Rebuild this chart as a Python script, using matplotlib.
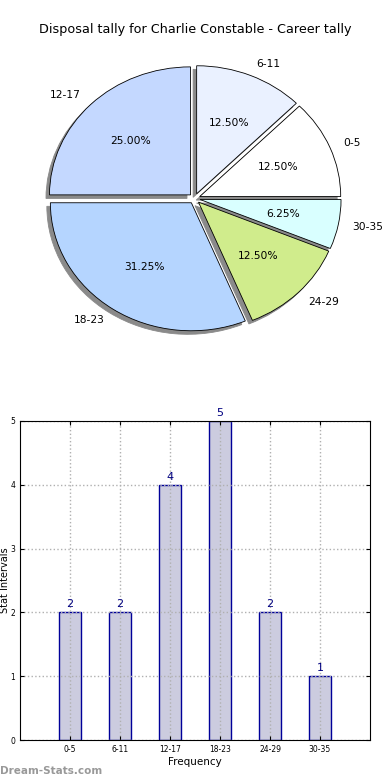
import matplotlib
matplotlib.use("Agg")
import matplotlib.pyplot as plt
import numpy as np

categories = ["0-5", "6-11", "12-17", "18-23", "24-29", "30-35"]
counts = [2, 2, 4, 5, 2, 1]
pie_colors = ["#ffffff", "#eaf1ff", "#c4d8ff", "#b5d5ff", "#d0ec8c", "#d9ffff"]
title = "Disposal tally for Charlie Constable - Career tally"

W, H = 390, 780
fig = plt.figure(figsize=(W / 100, H / 100), dpi=100)

# Pie axes (non-equal aspect, like old matplotlib)
rx, ry = 141, 128
cx, cy = 194.5, 780 - 198.5
axp = fig.add_axes([(cx - 1.25 * rx) / W, (cy - 1.25 * ry) / H, 2.5 * rx / W, 2.5 * ry / H])
wedges, texts, autotexts = axp.pie(
    counts, labels=categories, colors=pie_colors, explode=[0.04] * len(counts),
    autopct="%1.2f%%",
    shadow=dict(ox=-0.018, oy=-0.02, facecolor="#8a8a8a", edgecolor="#8a8a8a", alpha=1.0),
    startangle=0, counterclock=True,
    wedgeprops=dict(edgecolor="black", linewidth=0.6),
    textprops=dict(fontsize=7.7, color="black"))
axp.set_aspect("auto")
axp.set_xlim(-1.25, 1.25)
axp.set_ylim(-1.25, 1.25)
axp.axis("off")
fig.text(195 / W, 1 - 30 / H, title, ha="center", va="center", fontsize=9.2)

# Bar axes
axb = fig.add_axes([20 / W, 40 / H, 350 / W, 319 / H])
x = np.arange(len(categories))
bars = axb.bar(x, counts, width=0.45, color="#ccccdf", edgecolor="#000099", linewidth=1, zorder=2)
for xi, v in zip(x, counts):
    axb.text(xi, v + 0.05, str(v), ha="center", va="bottom", color="#000080", fontsize=8)
axb.set_xlim(-1, 6)
axb.set_ylim(0, 5)
axb.set_xticks(x)
axb.set_xticklabels(categories, fontsize=5.5)
axb.set_yticks(range(0, 6))
axb.tick_params(axis="y", labelsize=5.5)
axb.tick_params(direction="in", top=True, right=True, length=3, width=0.8)
axb.grid(True, linestyle=":", color="#b0b0b0", linewidth=1)
axb.set_axisbelow(False)
axb.set_xlabel("Frequency", fontsize=7.5, labelpad=2)
for s in axb.spines.values():
    s.set_linewidth(0.8)
    s.set_zorder(5)
fig.text(0.5 / W, 1 - 580 / H, "Stat Intervals", rotation=90, ha="left", va="center",
         fontsize=7)

fig.text(0 / W, 1 - 771 / H, "Dream-Stats.com", ha="left", va="center",
         fontsize=7.5, color="#999999", fontweight="bold")

fig.savefig("out.png", dpi=100)
